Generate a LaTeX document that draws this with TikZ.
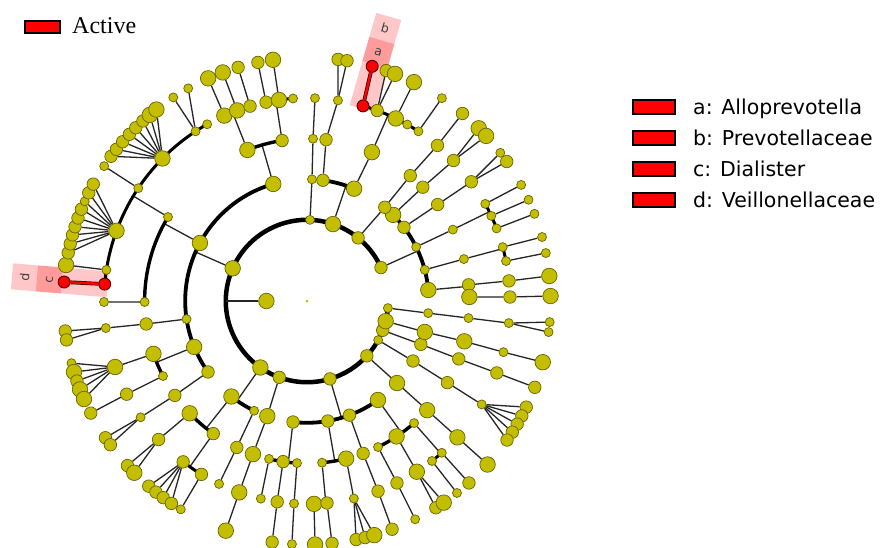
\documentclass[tikz,border=0pt]{standalone}
\usepackage{fontspec}
\setmainfont{Liberation Serif}
\newfontfamily\dvs{DejaVu Sans}
\usetikzlibrary{calc}
\pgfdeclarelayer{bands}
\pgfdeclarelayer{edges}
\pgfsetlayers{bands,edges,main}
\definecolor{olv}{RGB}{196,190,0}
\definecolor{olvd}{RGB}{105,100,0}
\definecolor{rd}{RGB}{255,0,0}
\tikzset{
  dotS/.style={circle,fill=olv,draw=olvd,line width=0.7pt,inner sep=0pt,minimum size=9pt},
  dotM/.style={dotS,minimum size=12.5pt},
  dotB/.style={dotS,minimum size=15.5pt},
  dotR/.style={circle,fill=rd,draw=black!70!red,line width=0.9pt,inner sep=0pt,minimum size=12pt},
  edge/.style={draw=black!85,line width=1.3pt},
  ringl/.style={draw=black,line width=4.5pt},
  redunder/.style={draw=black!80!red,line width=3.8pt},
  rededge/.style={draw=rd,line width=2.4pt},
  band/.style={fill=red,fill opacity=0.22},
  legbox/.style={fill=rd,draw=black,line width=1.6pt,inner sep=0pt},
  bandlab/.style={font=\dvs\fontsize{12.5}{14}\selectfont,text=black!75,inner sep=0pt},
  legtext/.style={font=\dvs\fontsize{20.5}{24}\selectfont,anchor=base west,inner sep=0pt},
}
% node placed at measured pixel position, snapped to its level radius
\newcommand\cnode[5]{%
  \pgfmathsetmacro\tmpa{atan2(301-(#3),(#2)-307)}%
  \expandafter\xdef\csname ang@#1\endcsname{\tmpa}%
  \expandafter\xdef\csname lev@#1\endcsname{#4}%
  \pgfmathsetmacro\tmpr{(#4)*40.6}%
  \node[#5] (#1) at ($(C)+(\tmpa:\tmpr pt)$) {};%
}
% parent -> arc joining children (first..last)
\newcommand\kids[3]{%
  \edef\kA{\csname ang@#2\endcsname}%
  \edef\kB{\csname ang@#3\endcsname}%
  \edef\kP{\csname ang@#1\endcsname}%
  \edef\kL{\csname lev@#2\endcsname}%
  \pgfmathsetmacro\kR{\kL*40.6}%
  \pgfmathsetmacro\kW{(7-\kL)*0.4+2.2}%
  \pgfmathsetmacro\kdB{mod(\kB-\kA+540,360)-180}%
  \pgfmathsetmacro\kdP{mod(\kP-\kA+540,360)-180}%
  \pgfmathsetmacro\kLo{min(0,\kdB,\kdP)}%
  \pgfmathsetmacro\kHi{max(0,\kdB,\kdP)}%
  \pgfmathsetmacro\kSt{\kA+\kLo}%
  \pgfmathsetmacro\kDl{\kHi-\kLo}%
  \begin{pgfonlayer}{edges}
  \draw[edge] (#1) -- ($(C)+(\kP:\kR pt)$);
  \draw[line width=\kW pt] ($(C)+(\kSt:\kR pt)$) arc[start angle=\kSt, delta angle=\kDl, radius=\kR pt];
  \end{pgfonlayer}%
}
% direct lines parent -> children
\newcommand\fan[2]{%
  \begin{pgfonlayer}{edges}
  \foreach \cc in {#2}{\draw[edge] (#1) -- (\cc);}
  \end{pgfonlayer}%
}
\begin{document}
\begin{tikzpicture}[x=1pt,y=1pt]
\useasboundingbox (0,0) rectangle (880,-547);
\begin{pgfonlayer}{bands}
\fill[white] (0,0) rectangle (880,-547);
\end{pgfonlayer}
\coordinate (C) at (307,-301);
\node[circle,fill=olv,inner sep=0pt,minimum size=3pt] (root) at (C) {};
\cnode{L1}{266}{301}{1}{dotB}
% ring (level 2)
\cnode{R1}{380}{268}{2}{dotM}
\cnode{R2}{358}{238}{2}{dotM}
\cnode{R3}{333}{224}{2}{dotB}
\cnode{R4}{310}{220}{2}{dotS}
\cnode{R5}{232}{268}{2}{dotB}
\cnode{R6}{260}{368}{2}{dotB}
\cnode{R7}{279}{378}{2}{dotM}
\cnode{R8}{330}{379}{2}{dotM}
\cnode{R9}{367}{356}{2}{dotM}
\cnode{R10}{378}{340}{2}{dotS}
\cnode{R11}{382}{330}{2}{dotM}
\cnode{R12}{385}{321}{2}{dotB}
\cnode{R13}{387}{308}{2}{dotS}
\edef\aRa{\csname ang@R1\endcsname}
\edef\aRb{\csname ang@R13\endcsname}
\edef\aLa{\csname ang@L1\endcsname}
\pgfmathsetmacro\aRe{\aRb+360}
\begin{pgfonlayer}{edges}
\draw[ringl] ($(C)+(\aRa:81.2pt)$) arc[start angle=\aRa, end angle=\aRe, radius=81.2pt];
\draw[edge] (L1) -- ($(C)+(\aLa:81.2pt)$);
\end{pgfonlayer}
% ---------- R1
\cnode{p1}{393}{215}{3}{dotB}
\cnode{p2}{403}{228}{3}{dotM}
\cnode{p3}{416}{247}{3}{dotS}
\cnode{p4}{424}{270}{3}{dotS}
\cnode{p5}{428}{290}{3}{dotB}
\kids{R1}{p1}{p5}
\cnode{p1a}{423}{187}{4}{dotM}
\cnode{p1b}{453}{161}{5}{dotM}
\cnode{p1c}{479}{128}{6}{dotB}
\cnode{p1d}{486}{136}{6}{dotB}
\fan{p1}{p1a}\fan{p1a}{p1b}\fan{p1b}{p1c,p1d}
\cnode{p2a}{437}{205}{4}{dotM}
\cnode{p2b}{471}{182}{5}{dotM}
\cnode{p2c}{500}{153}{6}{dotS}
\cnode{p2d}{506}{162}{6}{dotM}
\fan{p2}{p2a}\fan{p2a}{p2b}\fan{p2b}{p2c,p2d}
\cnode{p3a}{452}{230}{4}{dotS}
\cnode{p3b}{485}{204}{5}{dotS}
\cnode{p3c}{491}{216}{5}{dotS}
\cnode{p3d}{495}{229}{5}{dotS}
\fan{p3}{p3a}\kids{p3a}{p3b}{p3d}
\cnode{p3e}{521}{185}{6}{dotS}
\cnode{p3f}{528}{200}{6}{dotS}
\cnode{p3g}{534}{214}{6}{dotS}
\fan{p3b}{p3e}\fan{p3c}{p3f}\fan{p3d}{p3g}
\cnode{p4a}{464}{259}{4}{dotS}
\cnode{p4b}{503}{247}{5}{dotS}
\cnode{p4c}{506}{261}{5}{dotS}
\cnode{p4d}{542}{237}{6}{dotS}
\cnode{p4e}{546}{253}{6}{dotS}
\fan{p4}{p4a}\kids{p4a}{p4b}{p4c}\fan{p4b}{p4d}\fan{p4c}{p4e}
\cnode{p5a}{467}{285}{4}{dotM}
\cnode{p5b}{468}{297}{4}{dotB}
\kids{p5}{p5a}{p5b}
\cnode{p5c}{508}{281}{5}{dotM}
\cnode{p5d}{510}{297}{5}{dotM}
\cnode{p5e}{549}{276}{6}{dotB}
\cnode{p5f}{551}{296}{6}{dotB}
\fan{p5a}{p5c}\fan{p5b}{p5d}\fan{p5c}{p5e}\fan{p5d}{p5f}
% ---------- R2
\cnode{r2a}{385}{207}{3}{dotM}
\cnode{r2b}{410}{176}{4}{dotM}
\cnode{r2c}{437}{146}{5}{dotM}
\cnode{r2d}{462}{114}{6}{dotM}
\fan{R2}{r2a}\fan{r2a}{r2b}\fan{r2b}{r2c}\fan{r2c}{r2d}
% ---------- R3
\cnode{r3a}{323}{180}{3}{dotM}
\cnode{r3b}{354}{189}{3}{dotB}
\kids{R3}{r3a}{r3b}
\cnode{r3c}{326}{140}{4}{dotM}
\cnode{r3d}{338}{100}{5}{dotS}
\cnode{r3e}{338}{60}{6}{dotM}
\cnode{r3f}{347}{61}{6}{dotM}
\fan{r3a}{r3c}\fan{r3c}{r3d}\fan{r3d}{r3e,r3f}
\cnode{r3g}{372}{152}{4}{dotB}
\fan{r3b}{r3g}
\cnode{nb}{363}{106}{5}{dotR}
\cnode{r3h}{377}{111}{5}{dotM}
\cnode{r3i}{396}{118}{5}{dotB}
\cnode{r3j}{407}{125}{5}{dotS}
\cnode{r3k}{418}{132}{5}{dotS}
\kids{r3g}{nb}{r3k}
\cnode{na}{372}{67}{6}{dotR}
\cnode{r3l}{386}{71}{6}{dotM}
\cnode{r3m}{395}{74}{6}{dotB}
\cnode{r3n}{414}{82}{6}{dotB}
\cnode{r3o}{442}{98}{6}{dotS}
\fan{r3h}{r3l,r3m}\fan{r3i}{r3n}\fan{r3k}{r3o}
% ---------- R4
\cnode{r4a}{312}{179}{3}{dotS}
\cnode{r4b}{313}{139}{4}{dotS}
\cnode{r4c}{315}{98}{5}{dotS}
\fan{R4}{r4a}\fan{r4a}{r4b}\fan{r4b}{r4c}
% ---------- R5
\cnode{t1}{273}{183}{3}{dotB}
\cnode{t2}{200}{243}{3}{dotB}
\cnode{t3}{187}{319}{3}{dotS}
\cnode{t4}{194}{347}{3}{dotB}
\cnode{t5}{208}{372}{3}{dotM}
\kids{R5}{t1}{t5}
\cnode{t1a}{247}{149}{4}{dotB}
\cnode{t1b}{282}{140}{4}{dotM}
\kids{t1}{t1a}{t1b}
\cnode{t1c}{224}{115}{5}{dotB}
\cnode{t1d}{237}{110}{5}{dotB}
\cnode{t1e}{250}{106}{5}{dotM}
\kids{t1a}{t1c}{t1e}
\cnode{t1i}{266}{102}{5}{dotM}
\cnode{t1j}{279}{100}{5}{dotB}
\cnode{t1k}{293}{98}{5}{dotS}
\kids{t1b}{t1i}{t1k}
\cnode{t1f}{208}{78}{6}{dotB}
\cnode{t1g}{223}{73}{6}{dotB}
\cnode{t1h}{238}{67}{6}{dotM}
\cnode{t1l}{258}{63}{6}{dotM}
\cnode{t1m}{273}{60}{6}{dotB}
\fan{t1c}{t1f}\fan{t1d}{t1g}\fan{t1e}{t1h}\fan{t1i}{t1l}\fan{t1j}{t1m}
\cnode{t2a}{168}{217}{4}{dotS}
\cnode{t2b}{144}{302}{4}{dotS}
\kids{t2}{t2a}{t2b}
\cnode{nd}{104}{284}{5}{dotR}
\cnode{t2c}{107}{270}{5}{dotS}
\cnode{t2d}{117}{231}{5}{dotB}
\cnode{t2e}{138}{188}{5}{dotS}
\cnode{t2f}{162}{158}{5}{dotB}
\cnode{t2g}{196}{132}{5}{dotS}
\cnode{t2h}{207}{124}{5}{dotS}
\kids{t2a}{nd}{t2h}
\cnode{nc}{64}{282}{6}{dotR}
\cnode{t2i}{66}{265}{6}{dotB}
\fan{t2c}{t2i}
\cnode{t2d1}{69}{253}{6}{dotM}
\cnode{t2d2}{71}{244}{6}{dotM}
\cnode{t2d3}{73}{235}{6}{dotM}
\cnode{t2d4}{76}{227}{6}{dotM}
\cnode{t2d5}{78}{218}{6}{dotM}
\cnode{t2d6}{81}{209}{6}{dotM}
\cnode{t2d7}{84}{201}{6}{dotS}
\cnode{t2d8}{89}{193}{6}{dotM}
\cnode{t2d9}{93}{184}{6}{dotM}
\fan{t2d}{t2d1,t2d2,t2d3,t2d4,t2d5,t2d6,t2d7,t2d8,t2d9}
\cnode{t2j}{104}{166}{6}{dotS}
\fan{t2e}{t2j}
\cnode{t2f1}{112}{157}{6}{dotM}
\cnode{t2f2}{116}{149}{6}{dotM}
\cnode{t2f3}{123}{142}{6}{dotM}
\cnode{t2f4}{129}{134}{6}{dotM}
\cnode{t2f5}{136}{128}{6}{dotM}
\cnode{t2f6}{143}{121}{6}{dotM}
\cnode{t2f7}{149}{114}{6}{dotB}
\cnode{t2f8}{156}{109}{6}{dotB}
\fan{t2f}{t2f1,t2f2,t2f3,t2f4,t2f5,t2f6,t2f7,t2f8}
\cnode{t2g1}{173}{97}{6}{dotS}
\cnode{t2g2}{188}{88}{6}{dotS}
\fan{t2g}{t2g1,t2g2}
\cnode{t2k}{103}{302}{5}{dotS}
\fan{t2b}{t2k}
\cnode{t3a}{146}{324}{4}{dotM}
\cnode{t3b}{106}{328}{5}{dotS}
\cnode{t3c}{65}{331}{6}{dotM}
\cnode{t3d}{66}{340}{6}{dotM}
\fan{t3}{t3a}\fan{t3a}{t3b}\fan{t3b}{t3c,t3d}
\cnode{t4a}{153}{354}{4}{dotB}
\cnode{t4b}{163}{376}{4}{dotS}
\kids{t4}{t4a}{t4b}
\cnode{t4c}{115}{367}{5}{dotB}
\fan{t4a}{t4c}
\cnode{t4c1}{72}{363}{6}{dotS}
\cnode{t4c2}{74}{372}{6}{dotB}
\cnode{t4c3}{77}{381}{6}{dotM}
\cnode{t4c4}{81}{389}{6}{dotB}
\cnode{t4c5}{84}{399}{6}{dotB}
\fan{t4c}{t4c1,t4c2,t4c3,t4c4,t4c5}
\cnode{t4d}{127}{394}{5}{dotM}
\cnode{t4e}{91}{413}{6}{dotM}
\fan{t4b}{t4d}\fan{t4d}{t4e}
\cnode{t5a}{174}{396}{4}{dotM}
\cnode{t5b}{141}{417}{5}{dotS}
\cnode{t5c}{105}{438}{6}{dotM}
\cnode{t5d}{110}{445}{6}{dotM}
\fan{t5}{t5a}\fan{t5a}{t5b}\fan{t5b}{t5c,t5d}
% ---------- R6
\cnode{u1}{231}{397}{3}{dotB}
\cnode{u2}{254}{411}{3}{dotS}
\kids{R6}{u1}{u2}
\cnode{u1a}{190}{413}{4}{dotB}
\cnode{u1b}{213}{434}{4}{dotM}
\kids{u1}{u1a}{u1b}
\cnode{u1c}{158}{440}{5}{dotM}
\cnode{u1g}{127}{466}{6}{dotM}
\cnode{u1h}{134}{473}{6}{dotB}
\fan{u1a}{u1c}\fan{u1c}{u1g,u1h}
\cnode{u1d}{183}{462}{5}{dotM}
\cnode{u1e}{201}{475}{5}{dotM}
\kids{u1b}{u1d}{u1e}
\cnode{u1d1}{148}{487}{6}{dotM}
\cnode{u1d2}{156}{492}{6}{dotM}
\cnode{u1d3}{163}{498}{6}{dotM}
\cnode{u1d4}{171}{504}{6}{dotM}
\fan{u1d}{u1d1,u1d2,u1d3,u1d4}
\cnode{u1f}{181}{509}{6}{dotS}
\fan{u1e}{u1f}
\cnode{u2a}{237}{447}{4}{dotM}
\cnode{u2b}{219}{484}{5}{dotS}
\fan{u2}{u2a}\fan{u2a}{u2b}
% ---------- R7
\cnode{v1}{267}{417}{3}{dotB}
\cnode{v2}{253}{454}{4}{dotB}
\cnode{v3}{239}{493}{5}{dotB}
\cnode{v4}{226}{530}{6}{dotB}
\fan{R7}{v1}\fan{v1}{v2}\fan{v2}{v3}\fan{v3}{v4}
% ---------- R8
\cnode{w1}{293}{422}{3}{dotM}
\cnode{w2}{328}{422}{3}{dotM}
\cnode{w3}{349}{414}{3}{dotM}
\cnode{w4}{378}{400}{3}{dotB}
\kids{R8}{w1}{w4}
\cnode{w1a}{269}{459}{4}{dotS}
\cnode{w1b}{283}{462}{4}{dotM}
\cnode{w1c}{297}{463}{4}{dotS}
\kids{w1}{w1a}{w1c}
\cnode{w1d}{261}{498}{5}{dotS}
\cnode{w1e}{277}{503}{5}{dotM}
\cnode{w1f}{272}{543}{6}{dotM}
\cnode{w1g}{294}{504}{5}{dotS}
\cnode{w1h}{292}{543}{6}{dotS}
\fan{w1a}{w1d}\fan{w1b}{w1e}\fan{w1e}{w1f}\fan{w1c}{w1g}\fan{w1g}{w1h}
\cnode{w2a}{322}{462}{4}{dotS}
\cnode{w2b}{346}{458}{4}{dotB}
\kids{w2}{w2a}{w2b}
\cnode{w2c}{314}{504}{5}{dotB}
\cnode{w2d}{327}{503}{5}{dotM}
\kids{w2a}{w2c}{w2d}
\cnode{w2e}{315}{543}{6}{dotB}
\cnode{w2f}{332}{543}{6}{dotM}
\fan{w2c}{w2e}\fan{w2d}{w2f}
\cnode{w2g}{354}{499}{5}{dotS}
\fan{w2b}{w2g}
\cnode{w2h}{356}{539}{6}{dotM}
\cnode{w2i}{365}{537}{6}{dotM}
\cnode{w2j}{374}{534}{6}{dotB}
\fan{w2g}{w2h,w2i,w2j}
\cnode{w3a}{363}{453}{4}{dotM}
\cnode{w3b}{378}{491}{5}{dotM}
\cnode{w3c}{392}{529}{6}{dotM}
\fan{w3}{w3a}\fan{w3a}{w3b}\fan{w3b}{w3c}
\cnode{w4a}{378}{447}{4}{dotS}
\cnode{w4b}{397}{437}{4}{dotB}
\cnode{w4c}{414}{423}{4}{dotS}
\kids{w4}{w4a}{w4c}
\cnode{w4d}{397}{483}{5}{dotM}
\cnode{w4e}{415}{519}{6}{dotS}
\fan{w4a}{w4d}\fan{w4d}{w4e}
\cnode{w4f}{417}{472}{5}{dotB}
\cnode{w4k}{436}{508}{6}{dotM}
\cnode{w4l}{444}{503}{6}{dotB}
\fan{w4b}{w4f}\fan{w4f}{w4k,w4l}
\cnode{w4g}{432}{461}{5}{dotS}
\cnode{w4h}{442}{453}{5}{dotS}
\kids{w4c}{w4g}{w4h}
\cnode{w4i}{457}{493}{6}{dotS}
\cnode{w4j}{469}{483}{6}{dotM}
\fan{w4g}{w4i}\fan{w4h}{w4j}
% ---------- R9
\cnode{x1}{397}{383}{3}{dotB}
\cnode{x2}{427}{410}{4}{dotB}
\cnode{x3}{457}{437}{5}{dotB}
\cnode{x4}{487}{464}{6}{dotB}
\fan{R9}{x1}\fan{x1}{x2}\fan{x2}{x3}\fan{x3}{x4}
% ---------- R10
\cnode{y1}{413}{361}{3}{dotM}
\cnode{y2}{448}{383}{4}{dotM}
\cnode{y3}{481}{404}{5}{dotS}
\cnode{y4}{526}{407}{6}{dotM}
\cnode{y5}{522}{416}{6}{dotM}
\cnode{y6}{517}{424}{6}{dotM}
\cnode{y7}{512}{432}{6}{dotM}
\cnode{y8}{507}{440}{6}{dotM}
\fan{R10}{y1}\fan{y1}{y2}\fan{y2}{y3}\fan{y3}{y4,y5,y6,y7,y8}
% ---------- R11
\cnode{z1}{420}{344}{3}{dotM}
\cnode{z2}{459}{359}{4}{dotM}
\cnode{z3}{497}{373}{5}{dotM}
\cnode{z4}{534}{387}{6}{dotM}
\fan{R11}{z1}\fan{z1}{z2}\fan{z2}{z3}\fan{z3}{z4}
% ---------- R12
\cnode{k1}{425}{332}{3}{dotB}
\cnode{k2}{463}{341}{4}{dotB}
\cnode{k3}{503}{352}{5}{dotS}
\cnode{k4}{542}{362}{6}{dotB}
\fan{R12}{k1}\fan{k1}{k2}\fan{k2}{k3}\fan{k3}{k4}
% ---------- R13
\cnode{j1}{427}{313}{3}{dotS}
\cnode{j2}{468}{318}{4}{dotS}
\cnode{j3}{508}{323}{5}{dotS}
\cnode{j4}{549}{322}{6}{dotS}
\cnode{j5}{548}{332}{6}{dotS}
\fan{R13}{j1}\fan{j1}{j2}\fan{j2}{j3}\fan{j3}{j4,j5}
% ---------- highlighted clades
\begin{pgfonlayer}{edges}
\draw[redunder] (nb) -- (na);
\draw[rededge] (nb) -- (na);
\draw[redunder] (nd) -- (nc);
\draw[rededge] (nd) -- (nc);
\end{pgfonlayer}
\edef\angB{\csname ang@nb\endcsname}
\edef\angD{\csname ang@nd\endcsname}
\pgfmathsetmacro\rotB{\angB-90}
\pgfmathsetmacro\rotD{\angD-90}
\begin{pgfonlayer}{bands}
\begin{scope}[shift={(C)},rotate=\angB]
  \fill[band] (200pt,-13pt) rectangle (296pt,13pt);
  \fill[band] (246pt,-13pt) rectangle (271pt,13pt);
  \node[bandlab,rotate=\rotB] (labA) at (258.5pt,0pt) {a};
  \node[bandlab,rotate=\rotB] (labB) at (283.5pt,0pt) {b};
\end{scope}
\begin{scope}[shift={(C)},rotate=\angD]
  \fill[band] (200pt,-13pt) rectangle (296pt,13pt);
  \fill[band] (246pt,-13pt) rectangle (271pt,13pt);
  \node[bandlab,rotate=\rotD] (labC) at (258.5pt,0pt) {c};
  \node[bandlab,rotate=\rotD] (labD) at (283.5pt,0pt) {d};
\end{scope}
\end{pgfonlayer}
% ---------- legends
\node[legbox,minimum width=35pt,minimum height=12.5pt] (lgAct) at (42.5,-27) {};
\node[anchor=base west,inner sep=0pt,font=\fontsize{24}{28}\selectfont] (lgActT) at (72,-33.5) {Active};
\node[legbox,minimum width=42pt,minimum height=14pt] (lg1) at (654,-107) {};
\node[legbox,minimum width=42pt,minimum height=14pt] (lg2) at (654,-138) {};
\node[legbox,minimum width=42pt,minimum height=14pt] (lg3) at (654,-169) {};
\node[legbox,minimum width=42pt,minimum height=14pt] (lg4) at (654,-200) {};
\node[legtext] (lg1t) at (693,-114.5) {a: Alloprevotella};
\node[legtext] (lg2t) at (693,-145.5) {b: Prevotellaceae};
\node[legtext] (lg3t) at (693,-176.5) {c: Dialister};
\node[legtext] (lg4t) at (693,-207.5) {d: Veillonellaceae};
\end{tikzpicture}
\end{document}
